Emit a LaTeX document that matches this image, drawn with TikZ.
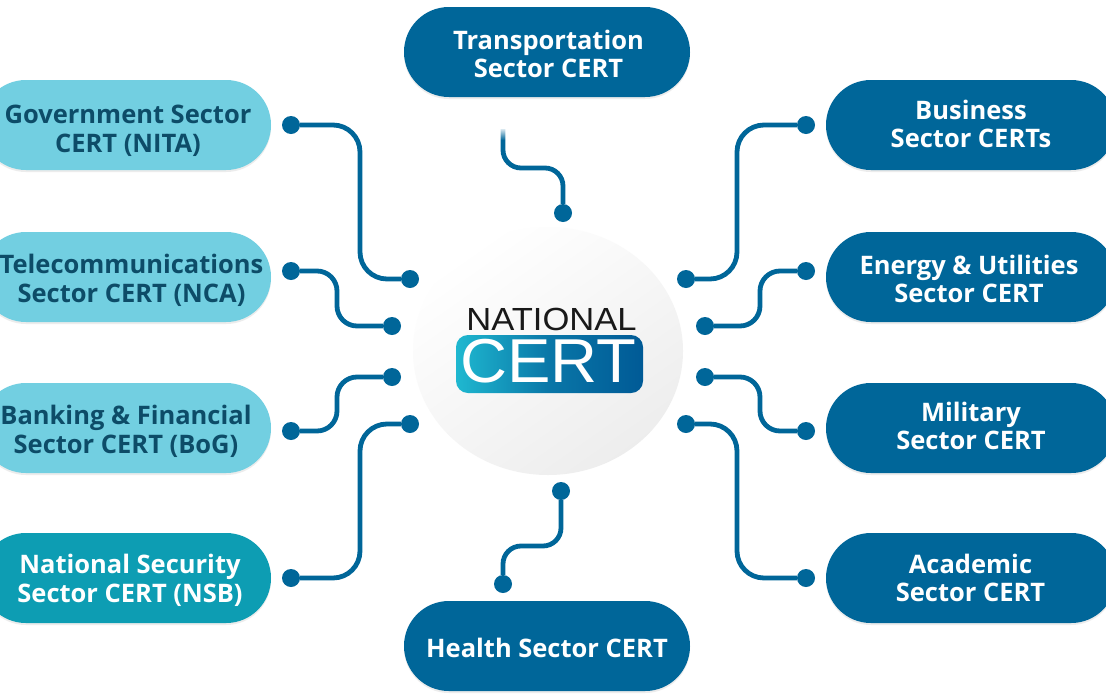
\documentclass[tikz,border=0pt]{standalone}
\usepackage{fontspec}
\usepackage{graphicx}
\setmainfont{Open Sans}[BoldFont={Open Sans Bold}]
\newfontfamily\logofont{Liberation Sans}
\usetikzlibrary{shadows,shapes.geometric,fadings}
\definecolor{lightpill}{HTML}{72CFE1}
\definecolor{darkpill}{HTML}{006699}
\definecolor{tealpill}{HTML}{0D9DB3}
\definecolor{darktext}{HTML}{0D4C68}
\definecolor{wire}{HTML}{006699}
\definecolor{logoL}{HTML}{1FB8D0}
\definecolor{logoR}{HTML}{005A96}
\tikzset{
  pill/.style={rectangle,rounded corners=44.9pt,minimum width=290pt,minimum height=90pt,inner sep=0pt,
    drop shadow={shadow xshift=0pt,shadow yshift=-2pt,opacity=.18,fill=black!40}},
  lightp/.style={pill,fill=lightpill},
  darkp/.style={pill,fill=darkpill},
  tealp/.style={pill,fill=tealpill},
  lbl/.style={inner sep=0pt,align=center,font=\fontsize{25.5}{28.7}\selectfont\bfseries},
  lbldark/.style={lbl,text=darktext},
  lblwhite/.style={lbl,text=white},
  dot/.style={circle,fill=wire,minimum size=18pt,inner sep=0pt},
  wireline/.style={draw=wire,line width=4.8pt},
}
\begin{document}
\begin{tikzpicture}[x=1pt,y=-1pt]
\useasboundingbox (0,0) rectangle (1106,694);
\clip (0,0) rectangle (1106,694);
\fill[white] (0,0) rectangle (1106,694);
% centre disc
\node[ellipse,minimum width=270pt,minimum height=248pt,inner sep=0pt,bottom color=black!7,middle color=black!2,top color=white,shading angle=35] (hub) at (548,351) {};
% pills
\node[lightp] (gov) at (126,125) {};
\node[lightp] (tel) at (126,277) {};
\node[lightp] (ban) at (126,428) {};
\node[tealp]  (nsb) at (126,578) {};
\node[darkp]  (bus) at (971,125) {};
\node[darkp]  (ene) at (971,277) {};
\node[darkp]  (mil) at (971,428) {};
\node[darkp]  (aca) at (971,578) {};
\node[darkp,minimum width=286pt] (tra) at (547,52) {};
\node[darkp,minimum width=286pt] (hea) at (547,646) {};
% pill texts
\node[lbldark]  (govt) at (128,131) {Government Sector\\CERT (NITA)};
\node[lbldark]  (telt) at (131.5,280) {Telecommunications\\Sector CERT (NCA)};
\node[lbldark]  (bant) at (126,431) {Banking \& Financial\\Sector CERT (BoG)};
\node[lblwhite] (nsbt) at (130,580.5) {National Security\\Sector CERT (NSB)};
\node[lblwhite] (bust) at (971,124) {Business\\Sector CERTs};
\node[lblwhite] (enet) at (969,279) {Energy \& Utilities\\Sector CERT};
\node[lblwhite] (milt) at (971,426) {Military\\Sector CERT};
\node[lblwhite] (acat) at (970.5,578) {Academic\\Sector CERT};
\node[lblwhite] (trat) at (548.5,54) {Transportation\\Sector CERT};
\node[lblwhite] (heat) at (547,648) {Health Sector CERT};
% dots
\foreach \n/\x/\y in {g1/291/125,g2/410/279,t1/291/271,t2/392/326,b1/291/431,b2/392/377,n1/291/578,n2/410/424,
  c1/806/125,c2/686/279,e1/806/271,e2/705/326,m1/806/431,m2/705/377,a1/806/578,a2/686/424,
  r2/563/213,h1/561/491,h2/503/584}
  \node[dot] (\n) at (\x,\y) {};
\coordinate (r1) at (503,129);
% connectors
\draw[wireline,rounded corners=27pt] (g1) -- (360,125) -- (360,279) -- (g2);
\draw[wireline,rounded corners=20pt] (t1) -- (337,271) -- (337,326) -- (t2);
\draw[wireline,rounded corners=20pt] (b1) -- (337,431) -- (337,377) -- (b2);
\draw[wireline,rounded corners=27pt] (n1) -- (360,578) -- (360,424) -- (n2);
\draw[wireline,rounded corners=27pt] (c1) -- (737,125) -- (737,279) -- (c2);
\draw[wireline,rounded corners=20pt] (e1) -- (760,271) -- (760,326) -- (e2);
\draw[wireline,rounded corners=20pt] (m1) -- (760,431) -- (760,377) -- (m2);
\draw[wireline,rounded corners=27pt] (a1) -- (737,578) -- (737,424) -- (a2);
\draw[wireline,rounded corners=18pt] (r1) -- (503,168) -- (563,168) -- (r2);
\draw[wireline,rounded corners=18pt] (h1) -- (561,546) -- (503,546) -- (h2);
\fill[white,path fading=south] (498,127) rectangle (508,140);
% logo
\node[inner sep=0pt,font=\logofont\fontsize{32}{32}\selectfont,text=black!90] (nat) at (551.5,319) {\scalebox{1.08}[1]{NATIONAL}};
\shade[left color=logoL,right color=logoR,middle color=logoR!70!logoL,rounded corners=12pt] (456,335) rectangle (643,393);
\node[inner sep=0pt,font=\logofont\fontsize{62}{62}\selectfont,text=white] (cert) at (548.5,361) {\scalebox{1.05}[1]{CERT}};
\end{tikzpicture}
\end{document}
